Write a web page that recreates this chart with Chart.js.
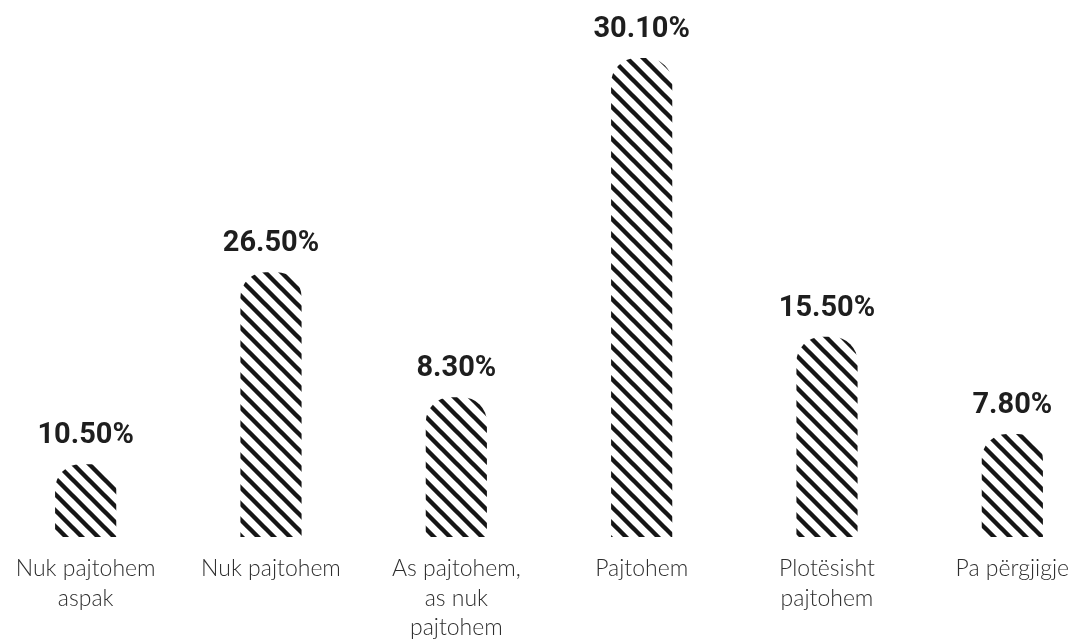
<!DOCTYPE html>
<html>
<head>
<meta charset="utf-8">
<style>
  html, body { margin: 0; padding: 0; background: #fff; overflow: hidden; }
  #wrap { position: relative; width: 1079px; height: 641px; overflow: hidden; }
  #chart { position: absolute; left: -7px; top: 0; }
</style>
</head>
<body>
<div id="wrap"><canvas id="chart" width="1112" height="641"></canvas></div>
<script src="https://cdn.jsdelivr.net/npm/chart.js"></script>
<script>
    // categories (Albanian survey answers)
    const categories = [
        ['Nuk pajtohem', 'aspak'],
        ['Nuk pajtohem'],
        ['As pajtohem,', 'as nuk', 'pajtohem'],
        ['Pajtohem'],
        ['Plotësisht', 'pajtohem'],
        ['Pa përgjigje']
    ];
    // printed values above the bars
    const valueLabels = ['10.50%', '26.50%', '8.30%', '30.10%', '15.50%', '7.80%'];
    // bar heights as drawn in the picture (tallest bar = 100)
    const barHeights = [15.2, 55.3, 29.2, 100, 41.8, 21.5];

    function stripePattern() {
        const s = 16;
        const c = document.createElement('canvas');
        c.width = s; c.height = s;
        const x = c.getContext('2d');
        x.strokeStyle = '#161616';
        x.lineWidth = 4.4;
        x.beginPath();
        for (const k of [-s, 0, s]) {
            x.moveTo(-2, -2 + k);
            x.lineTo(s + 2, s + 2 + k);
        }
        x.stroke();
        return x.createPattern(c, 'repeat');
    }

    const valueLabelPlugin = {
        id: 'valueLabels',
        afterDatasetsDraw(chart) {
            const ctx = chart.ctx;
            const meta = chart.getDatasetMeta(0);
            ctx.save();
            ctx.font = 'bold 29px Roboto';
            ctx.fillStyle = '#1e1e1e';
            ctx.textAlign = 'center';
            ctx.textBaseline = 'alphabetic';
            meta.data.forEach((bar, i) => {
                ctx.fillText(valueLabels[i], bar.x, bar.y - 21);
            });
            ctx.restore();
        }
    };

    const ctx = document.getElementById('chart').getContext('2d');
    const chart = new Chart(ctx, {
        type: 'bar',
        data: {
            labels: categories,
            datasets: [{
                data: barHeights,
                backgroundColor: stripePattern(),
                borderWidth: 0,
                borderRadius: 25,
                borderSkipped: 'start',
                barPercentage: 0.33,
                categoryPercentage: 1
            }]
        },
        options: {
            responsive: false,
            animation: false,
            layout: { padding: { top: 37, bottom: 0, left: 0, right: 0 } },
            plugins: { legend: { display: false }, tooltip: { enabled: false } },
            scales: {
                x: {
                    grid: { display: false, drawTicks: false },
                    border: { display: false },
                    afterFit(scale) { scale.height = 104; },
                    ticks: {
                        color: '#2e2e2e',
                        font: { family: 'Lato', size: 23, weight: 300, lineHeight: 1.28 },
                        padding: 17,
                        maxRotation: 0,
                        autoSkip: false
                    }
                },
                y: {
                    display: false,
                    min: 0,
                    max: 104.4
                }
            }
        },
        plugins: [valueLabelPlugin]
    });
</script>
</body>
</html>
